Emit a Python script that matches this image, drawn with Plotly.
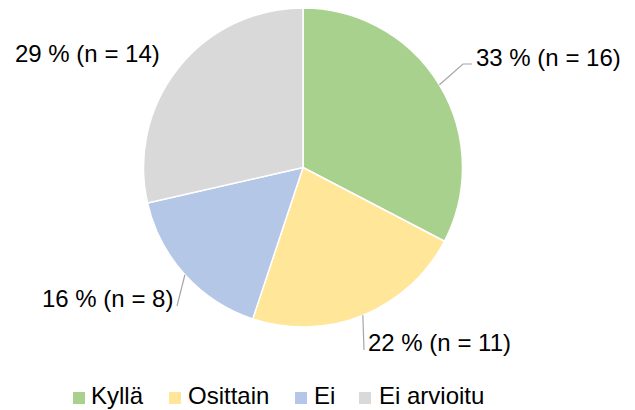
import math
import plotly.graph_objects as go

categories = ["Kyllä", "Osittain", "Ei", "Ei arvioitu"]
counts = [16, 11, 8, 14]
colors = ["#A9D18E", "#FFE699", "#B4C7E7", "#D9D9D9"]

W, H = 635, 410
OFF = 8  # default page body margin
CX, CY, R = 303, 167.5, 159.5
FONT = "Liberation Sans, Arial, sans-serif"
FS = 24

def px(x):
    return (x - OFF) / W

def py(y):
    return 1 - (y - OFF) / H

total = sum(counts)
labels_txt = [f"{round(100 * c / total)} % (n = {c})" for c in counts]

# label layout: text anchor (px), anchor side, elbow points of leader line
label_layout = [
    dict(x=475, y=57, xanchor="left", elbow=[(463, 64), (472, 64)]),
    dict(x=367, y=342, xanchor="left", elbow=[(364, 350)]),
    dict(x=174, y=298, xanchor="right", elbow=[(177, 306)]),
    dict(x=161, y=54, xanchor="right", elbow=None),
]

# legend layout (px): marker left, text left
legend_marker_x = [73, 169, 295, 359]
legend_text_x = [90, 187, 313, 378]
LEG_MY = 398
LEG_TY = 395
MS = 12

fig = go.Figure(go.Pie(
    labels=categories,
    values=counts,
    marker=dict(colors=colors, line=dict(color="white", width=1.5)),
    sort=False,
    direction="clockwise",
    rotation=0,
    textinfo="none",
    hoverinfo="label+value+percent",
    domain=dict(x=[px(CX - R), px(CX + R)], y=[py(CY + R), py(CY - R)]),
    showlegend=False,
))

shapes = []
annotations = []
cum = 0
for c, txt, lay in zip(counts, labels_txt, label_layout):
    mid = (cum + c / 2) / total * 2 * math.pi
    cum += c
    ex = CX + R * math.sin(mid)
    ey = CY - R * math.cos(mid)
    if lay["elbow"]:
        pts = [(ex, ey)] + lay["elbow"]
        path = "M " + " L ".join(f"{px(a)},{py(b)}" for a, b in pts)
        shapes.append(dict(type="path", xref="paper", yref="paper", path=path,
                           line=dict(color="#A6A6A6", width=1.2)))
    annotations.append(dict(x=px(lay["x"]), y=py(lay["y"]), xref="paper", yref="paper",
                            text=txt, showarrow=False, xanchor=lay["xanchor"],
                            yanchor="middle", borderpad=0,
                            font=dict(family=FONT, size=FS, color="#000000")))

for cat, col, mx, tx in zip(categories, colors, legend_marker_x, legend_text_x):
    shapes.append(dict(type="rect", xref="paper", yref="paper",
                       x0=px(mx), x1=px(mx + MS), y0=py(LEG_MY + MS / 2), y1=py(LEG_MY - MS / 2),
                       fillcolor=col, line=dict(width=0)))
    annotations.append(dict(x=px(tx), y=py(LEG_TY), xref="paper", yref="paper",
                            text=cat, showarrow=False, xanchor="left", yanchor="middle",
                            borderpad=0,
                            font=dict(family=FONT, size=FS, color="#000000")))

fig.update_layout(
    width=W, height=H,
    margin=dict(l=0, r=0, t=0, b=0),
    paper_bgcolor="white",
    plot_bgcolor="white",
    shapes=shapes,
    annotations=annotations,
    showlegend=False,
)

fig.write_html("out.html")
